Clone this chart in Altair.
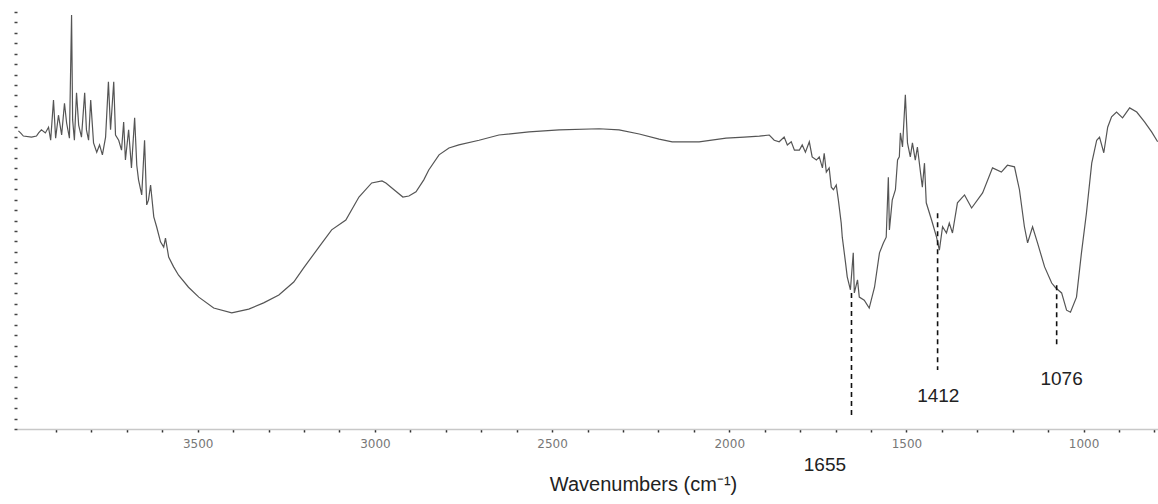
import altair as alt
import pandas as pd

# FTIR spectrum (wavenumber cm^-1, transmittance-like value)
wavenumber = [4006, 4000, 3992, 3969, 3955, 3949, 3941, 3930, 3921, 3915, 3907, 3901, 3893, 3884,
              3876, 3870, 3862, 3856, 3853, 3848, 3842, 3836, 3828, 3819, 3814, 3808, 3802, 3794,
              3785, 3777, 3769, 3760, 3752, 3746, 3737, 3732, 3723, 3715, 3709, 3704, 3695, 3687,
              3678, 3672, 3667, 3658, 3650, 3644, 3639, 3633, 3624, 3616, 3605, 3596, 3591, 3582,
              3568, 3554, 3526, 3497, 3455, 3404, 3356, 3314, 3271, 3229, 3201, 3158, 3122, 3082,
              3045, 3009, 2980, 2969, 2946, 2921, 2904, 2884, 2862, 2848, 2819, 2791, 2763, 2706,
              2650, 2565, 2480, 2367, 2311, 2254, 2198, 2161, 2085, 2009, 1958, 1915, 1887, 1873,
              1859, 1845, 1836, 1825, 1816, 1802, 1794, 1785, 1774, 1766, 1754, 1746, 1737, 1732,
              1726, 1718, 1712, 1706, 1698, 1692, 1684, 1681, 1672, 1667, 1658, 1650, 1647, 1638,
              1633, 1619, 1605, 1590, 1576, 1565, 1557, 1551, 1548, 1540, 1531, 1525, 1520, 1517,
              1511, 1503, 1497, 1489, 1483, 1475, 1469, 1460, 1455, 1449, 1444, 1429, 1415, 1407,
              1398, 1387, 1379, 1370, 1356, 1336, 1316, 1285, 1257, 1232, 1215, 1195, 1181, 1167,
              1158, 1144, 1130, 1110, 1090, 1079, 1062, 1048, 1037, 1020, 1006, 992, 977, 963,
              955, 943, 932, 921, 907, 890, 870, 850, 828, 808, 791]
transmittance = [57.2, 56.8, 56.2, 56.0, 56.2, 56.8, 57.4, 56.8, 57.9, 55.4, 63.1, 55.8, 60.2, 56.4,
                 62.5, 58.7, 55.8, 79.4, 59.3, 55.4, 64.5, 58.3, 56.0, 64.5, 57.4, 55.4, 63.1, 54.9,
                 53.1, 54.5, 52.6, 56.0, 66.6, 57.4, 66.6, 56.4, 55.4, 53.5, 58.9, 51.6, 57.4, 50.1,
                 59.7, 50.6, 47.8, 44.9, 55.4, 43.0, 43.9, 46.8, 40.7, 38.8, 35.9, 34.9, 36.6, 33.0,
                 31.1, 29.5, 27.2, 25.3, 23.2, 22.3, 23.0, 24.2, 25.7, 28.2, 30.9, 34.9, 38.2, 40.1,
                 44.5, 47.2, 47.6, 47.2, 45.9, 44.5, 44.7, 45.5, 47.8, 49.7, 52.6, 53.9, 54.5, 55.4,
                 56.4, 57.0, 57.4, 57.6, 57.4, 56.6, 55.6, 55.1, 55.1, 55.8, 56.0, 56.2, 56.4, 55.4,
                 55.1, 56.0, 54.5, 55.1, 53.5, 53.5, 54.5, 53.1, 55.1, 52.2, 51.6, 52.2, 50.1, 52.9,
                 49.3, 50.1, 46.4, 45.9, 46.8, 43.9, 39.5, 36.8, 32.0, 29.2, 26.7, 33.8, 26.1, 28.6,
                 25.3, 24.7, 23.2, 27.2, 33.8, 35.7, 36.8, 48.3, 38.2, 43.9, 45.9, 51.6, 52.2, 56.8,
                 54.1, 64.1, 54.9, 52.2, 54.9, 51.6, 54.1, 49.1, 46.4, 51.0, 43.4, 40.1, 36.8, 34.3,
                 38.8, 37.6, 39.5, 37.6, 43.4, 44.9, 42.4, 45.3, 50.1, 49.3, 50.6, 50.3, 45.9, 38.8,
                 35.7, 38.8, 35.7, 31.1, 28.0, 27.1, 26.1, 22.8, 22.4, 25.3, 33.8, 41.4, 51.0, 55.4,
                 56.0, 53.0, 57.9, 59.9, 60.8, 59.7, 61.6, 60.8, 58.9, 57.0, 55.1]

# Marked peaks: position, dashed line top/bottom, label position
peak_labels = ["1655", "1412", "1076"]
peak_pos = [1655, 1412, 1076]
peak_top = [26.1, 41.4, 27.6]
peak_bottom = [2.1, 11.3, 15.5]
label_x = [1730, 1410, 1062]
label_y = [-6.9, 6.3, 9.6]

x_ticks = list(range(3900, 700, -100))
y_ticks = list(range(0, 82, 2))

spec = pd.DataFrame({"w": wavenumber, "t": transmittance})
peaks = pd.DataFrame({"pos": peak_pos, "top": peak_top, "bottom": peak_bottom,
                      "lx": label_x, "ly": label_y, "label": peak_labels})

xscale = alt.Scale(domain=[4010, 790], nice=False, zero=False)
yscale = alt.Scale(domain=[0, 80], nice=False, zero=False)

xaxis = alt.Axis(
    title="Wavenumbers (cm⁻¹)",
    values=x_ticks,
    tickCount=200,
    labelExpr="datum.value % 500 == 0 ? datum.label : ''",
    labelOverlap=False,
    format="d",
    grid=False,
    domainColor="#c8c8c8",
    domainWidth=1.5,
    tickColor="#333",
    tickSize=3,
    tickWidth=1.5,
    labelFont="DejaVu Sans",
    labelFontSize=12,
    labelColor="#777",
    labelPadding=6,
    titleFont="Liberation Sans",
    titleFontSize=20,
    titleFontWeight="normal",
    titleColor="#222",
    titleX=626,
    titleY=61,
    titleAlign="center",
    titleBaseline="alphabetic",
)
yaxis = alt.Axis(
    title=None,
    values=y_ticks,
    tickCount=200,
    labels=False,
    grid=False,
    domain=False,
    tickColor="#444",
    tickSize=3,
    tickWidth=1.5,
)

line = alt.Chart(spec).mark_line(color="#555", strokeWidth=1.2).encode(
    x=alt.X("w:Q", scale=xscale, axis=xaxis),
    y=alt.Y("t:Q", scale=yscale, axis=yaxis),
)

rules = alt.Chart(peaks).mark_rule(color="#111", strokeWidth=1.6, strokeDash=[5, 4]).encode(
    x=alt.X("pos:Q", scale=xscale),
    y=alt.Y("top:Q", scale=yscale),
    y2="bottom:Q",
)

labels = alt.Chart(peaks).mark_text(font="Liberation Sans", fontSize=19, color="#222",
                                    baseline="middle", align="center").encode(
    x=alt.X("lx:Q", scale=xscale),
    y=alt.Y("ly:Q", scale=yscale),
    text="label:N",
)

chart = alt.layer(line, rules, labels).properties(
    width=1141,
    height=417,
    autosize=alt.AutoSizeParams(type="none"),
    padding={"left": 17, "top": 12, "right": 0, "bottom": 75},
    background="white",
).configure_view(stroke=None)

chart.save("out.html", embed_options={"renderer": "svg", "actions": False})
